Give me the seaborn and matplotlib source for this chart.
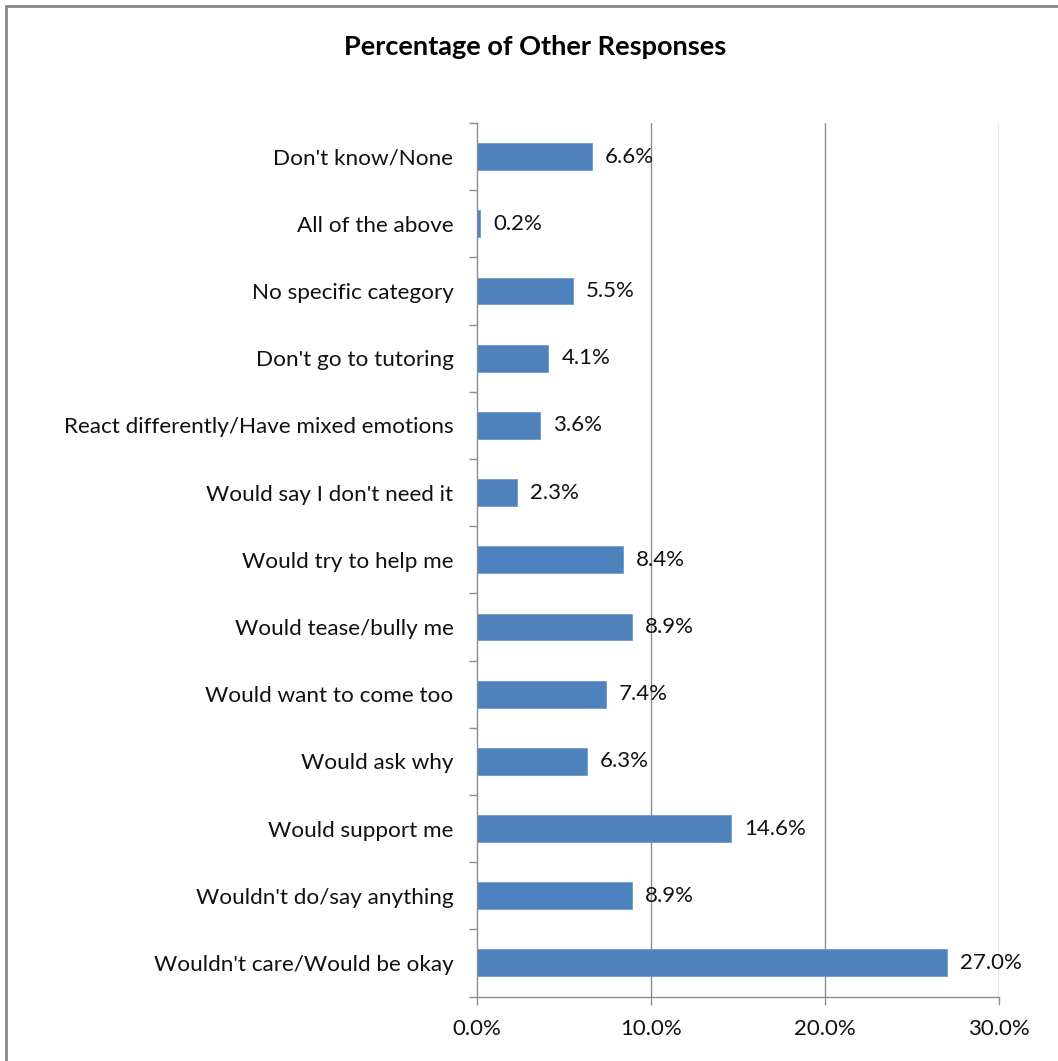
import matplotlib
matplotlib.use("Agg")
import matplotlib.pyplot as plt
from matplotlib.patches import Rectangle
from matplotlib.ticker import FixedLocator
import seaborn as sns
import pandas as pd

categories = [
    "Don't know/None",
    "All of the above",
    "No specific category",
    "Don't go to tutoring",
    "React differently/Have mixed emotions",
    "Would say I don't need it",
    "Would try to help me",
    "Would tease/bully me",
    "Would want to come too",
    "Would ask why",
    "Would support me",
    "Wouldn't do/say anything",
    "Wouldn't care/Would be okay",
]
percentages = [6.6, 0.2, 5.5, 4.1, 3.6, 2.3, 8.4, 8.9, 7.4, 6.3, 14.6, 8.9, 27.0]
x_ticks = [0, 10, 20, 30]
x_tick_labels = ["0.0%", "10.0%", "20.0%", "30.0%"]
title = "Percentage of Other Responses"

sns.set_theme(style="white")
plt.rcParams["font.family"] = ["Lato", "DejaVu Sans"]

W, H = 1058, 1061
fig = plt.figure(figsize=(W / 100, H / 100), dpi=100)
ax = fig.add_axes([477 / W, 1 - 996.5 / H, (999 - 477) / W, (996.5 - 123) / H])

df = pd.DataFrame({"category": categories, "pct": percentages})
bar_color = "#4F81BD"
sns.barplot(data=df, y="category", x="pct", orient="h", color=bar_color,
            width=0.4, saturation=1, ax=ax, edgecolor="#6f9bd1", linewidth=0.6)

ax.set_xlim(0, 30)
ax.set_ylim(len(categories) - 0.5, -0.5)
ax.set_xlabel("")
ax.set_ylabel("")

text_color = "#111111"
grid_color = "#8c8c8c"
ax.xaxis.set_major_locator(FixedLocator(x_ticks))
ax.set_xticklabels(x_tick_labels, fontsize=16, color=text_color)
for x in x_ticks[1:]:
    ax.axvline(x, color=grid_color, lw=1.0, zorder=0)

# category boundary ticks on the vertical axis
ax.set_yticks(range(len(categories)))
ax.set_yticklabels(categories, fontsize=16.2, color=text_color)
ax.set_yticks([i - 0.5 for i in range(len(categories) + 1)], minor=True)
ax.tick_params(axis="y", which="major", length=0, pad=17)
ax.tick_params(axis="y", which="minor", length=6, width=1, color=grid_color, direction="out", left=True)
ax.tick_params(axis="x", which="major", length=6, width=1, color=grid_color, direction="out", bottom=True, pad=10)

for side in ["top", "right"]:
    ax.spines[side].set_visible(False)
for side in ["left", "bottom"]:
    ax.spines[side].set_color(grid_color)
    ax.spines[side].set_linewidth(1.0)

for i, v in enumerate(percentages):
    ax.text(v + 0.75, i, f"{v:.1f}%", va="center", ha="left", fontsize=16, color=text_color)

fig.text(535 / W, 1 - 47 / H, title, ha="center", va="center",
         fontsize=19.5, fontweight="bold", color="black")

# outer chart frame (extends past right and bottom edges)
fig.patches.append(Rectangle((6 / W, -0.05), 1.1, 1 - 6 / H + 0.05, transform=fig.transFigure,
                             fill=False, edgecolor="#878787", lw=2.0))

fig.savefig("out.png", dpi=100)
